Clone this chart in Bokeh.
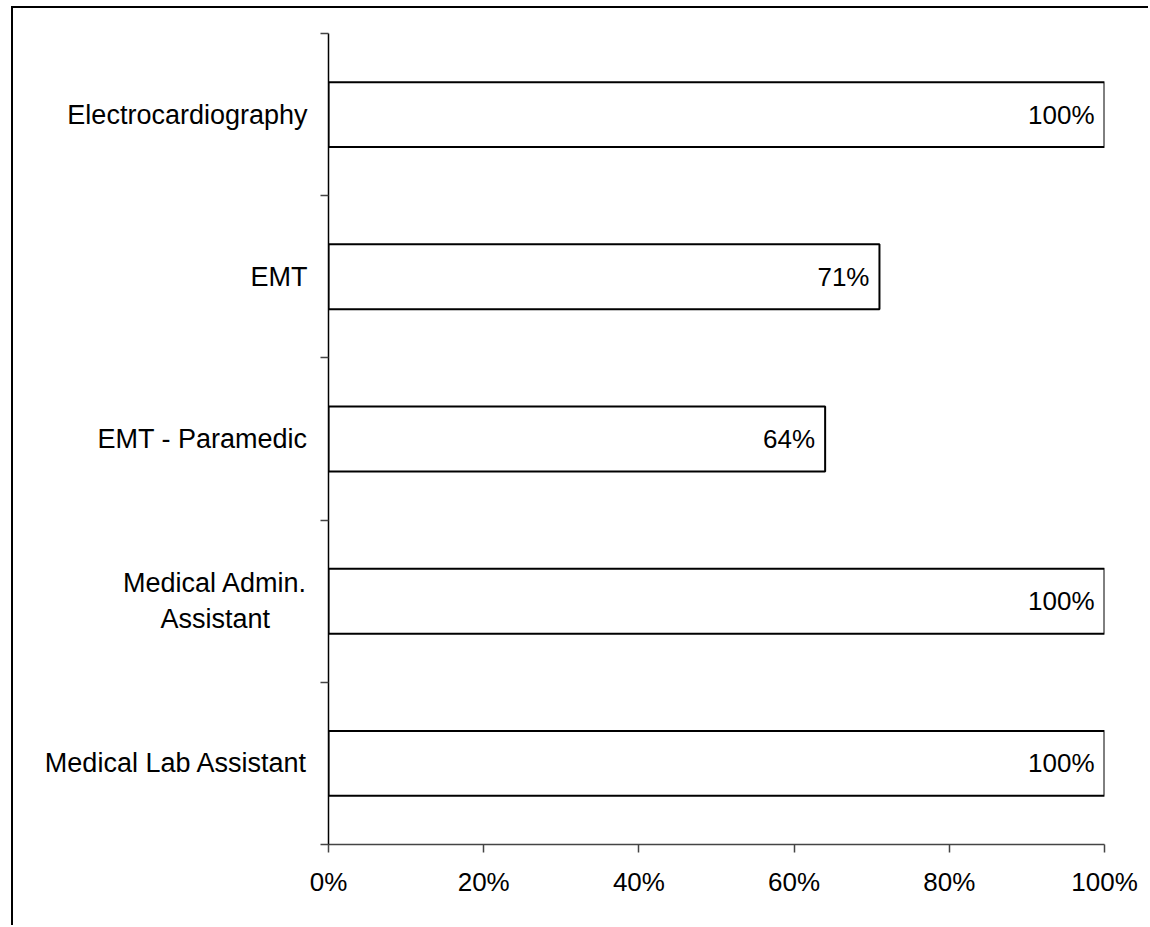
from bokeh.plotting import figure
from bokeh.models import Range1d, FixedTicker, PrintfTickFormatter, LinearAxis, ColumnDataSource
from bokeh.core.properties import value
from bokeh.embed import file_html
from bokeh.resources import INLINE

categories = ["Electrocardiography", "EMT", "EMT - Paramedic",
              "Medical Admin.\nAssistant\u00a0\u00a0\u00a0\u00a0\u00a0", "Medical Lab Assistant"]
values = [100, 71, 64, 100, 100]
x_ticks = [0, 20, 40, 60, 80, 100]

n = len(categories)
# bottom-up positions (first category at top)
ypos = [n - 1 - i + 0.5 for i in range(n)]
labels = [f"{v}%" for v in values]

src = ColumnDataSource(dict(y=ypos, v=values, lab=labels))

FONT = "Liberation Sans"

p = figure(width=1137, height=919, output_backend="svg", toolbar_location=None,
           x_range=Range1d(0, 100), y_range=Range1d(0, n),
           x_axis_type=None, y_axis_type=None,
           min_border_left=315, min_border_right=46, min_border_top=25, min_border_bottom=83)
p.margin = (6, 0, 0, 11)
p.styles = {"border-left": "2px solid #000", "border-top": "2px solid #000"}
p.outline_line_color = None
p.xgrid.visible = False
p.ygrid.visible = False
p.background_fill_color = "white"
p.border_fill_color = "white"

p.hbar(y="y", right="v", left=0, height=0.4, source=src,
       fill_color="white", line_color="black", line_width=2)
p.text(x="v", y="y", text="lab", source=src, x_offset=-10,
       text_align="right", text_baseline="middle",
       text_font=value(FONT), text_font_size="26px", text_color="black")

xa = LinearAxis(ticker=FixedTicker(ticks=x_ticks),
                formatter=PrintfTickFormatter(format="%d%%"))
xa.axis_line_color = "#444444"
xa.axis_line_width = 1.5
xa.major_tick_line_color = "#444444"
xa.major_tick_line_width = 1.5
xa.major_tick_out = 8
xa.major_tick_in = 0
xa.minor_tick_out = 0
xa.minor_tick_in = 0
xa.major_label_text_font = FONT
xa.major_label_text_font_size = "26px"
xa.major_label_text_color = "black"
xa.major_label_standoff = 14
p.add_layout(xa, "below")

ya = LinearAxis(ticker=FixedTicker(ticks=ypos, minor_ticks=list(range(n + 1))))
ya.major_label_overrides = {yp: c for yp, c in zip(ypos, categories)}
ya.axis_line_color = "black"
ya.axis_line_width = 1.5
ya.major_tick_out = 0
ya.major_tick_in = 0
ya.minor_tick_out = 8
ya.minor_tick_in = 0
ya.minor_tick_line_color = "#444444"
ya.minor_tick_line_width = 1.5
ya.major_label_text_font = FONT
ya.major_label_text_font_size = "27px"
ya.major_label_text_color = "black"
ya.major_label_standoff = 13
p.add_layout(ya, "left")

open("out.html", "w").write(file_html(p, INLINE))
